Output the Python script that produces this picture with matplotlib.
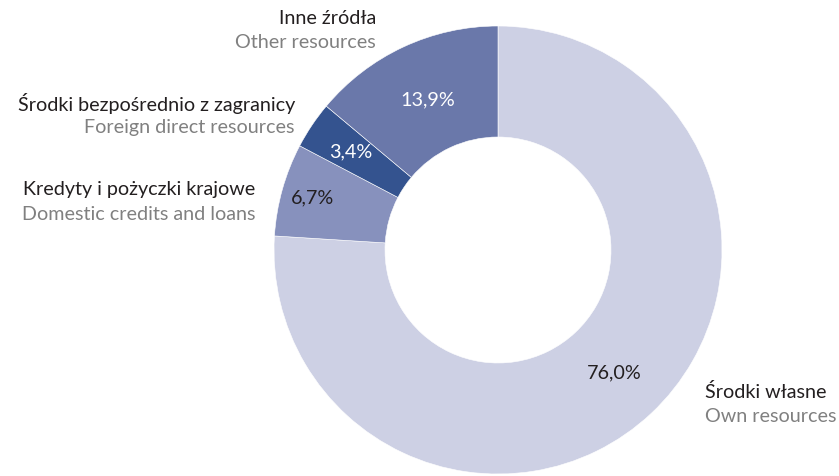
import matplotlib
matplotlib.use('Agg')
import matplotlib.pyplot as plt
import numpy as np

# Data
shares = [76.0, 6.7, 3.4, 13.9]
pct_labels = ['76,0%', '6,7%', '3,4%', '13,9%']
names_pl = ['Środki własne', 'Kredyty i pożyczki krajowe',
            'Środki bezpośrednio z zagranicy', 'Inne źródła']
names_en = ['Own resources', 'Domestic credits and loans',
            'Foreign direct resources', 'Other resources']

COLORS = ['#cdd0e4', '#8791bd', '#34538f', '#6a78aa']
PCT_COLORS = ['#231f20', '#231f20', 'white', 'white']
PCT_DIST = [0.755, 0.86, 0.79, 0.74]
FONT = 'Lato'
FS = 14.2

W, H = 839, 476
fig = plt.figure(figsize=(W / 100, H / 100), dpi=100)
ax = fig.add_axes([0, 0, 1, 1])

cx, cy, R = 498, H - 250, 224
wedges, _ = ax.pie(shares, colors=COLORS, startangle=90, counterclock=False,
                   center=(cx, cy), radius=R, frame=True,
                   wedgeprops=dict(width=R - 113, edgecolor='white', linewidth=0.4))
ax.set_xlim(0, W)
ax.set_ylim(0, H)
ax.axis('off')

for w, lab, col, d in zip(wedges, pct_labels, PCT_COLORS, PCT_DIST):
    ang = np.deg2rad((w.theta1 + w.theta2) / 2)
    ax.text(cx + d * R * np.cos(ang), cy + d * R * np.sin(ang), lab,
            ha='center', va='center', color=col, fontsize=FS, family=FONT)

# outer labels (x, y of anchor, alignment)
label_pos = [(705, 392, 'left'), (255, 189, 'right'), (295, 103, 'right'), (376, 18, 'right')]
for (x, y, ha), pl, en in zip(label_pos, names_pl, names_en):
    ax.text(x, H - y, pl, ha=ha, va='center', color='#231f20', fontsize=FS, family=FONT)
    ax.text(x, H - y - 25, en, ha=ha, va='center', color='#808080', fontsize=FS, family=FONT)

fig.savefig('out.png', dpi=100)
